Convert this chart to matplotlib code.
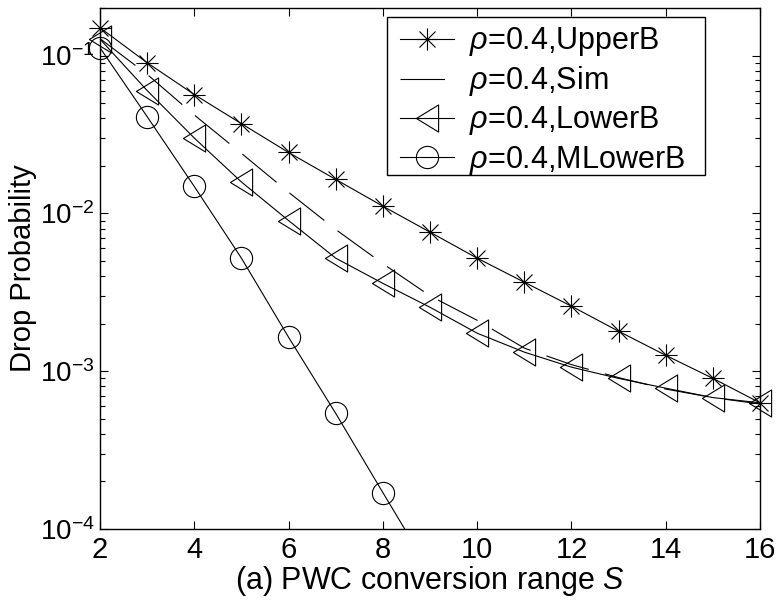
import numpy as np
import matplotlib
matplotlib.use("Agg")
import matplotlib.pyplot as plt
from matplotlib.path import Path
from matplotlib.lines import Line2D
from matplotlib.patches import Rectangle
from matplotlib.ticker import LogLocator, LogFormatterMathtext, NullFormatter

plt.rcParams['font.family'] = ['Liberation Sans', 'DejaVu Sans']
plt.rcParams['mathtext.fontset'] = 'custom'
plt.rcParams['mathtext.rm'] = 'Liberation Sans'
plt.rcParams['mathtext.it'] = 'Liberation Sans:italic'
plt.rcParams['axes.unicode_minus'] = False

# data
S = [2, 3, 4, 5, 6, 7, 8, 9, 10, 11, 12, 13, 14, 15, 16]
upper_b = [0.150, 0.090, 0.0566, 0.037, 0.0243, 0.0164, 0.0111, 0.0076,
           0.0052, 0.00366, 0.00258, 0.00179, 0.00126, 0.00090, 0.00063]
sim = [0.128, 0.076, 0.042, 0.024, 0.0136, 0.0079, 0.0048, 0.0030,
       0.0021, 0.0014, 0.0011, 0.00091, 0.00077, 0.00068, 0.00062]
lower_b = [0.127, 0.060, 0.030, 0.0158, 0.0090, 0.0052, 0.0036, 0.00254,
           0.00174, 0.00132, 0.00106, 0.00090, 0.00078, 0.00068, 0.00063]
S_m = [2, 3, 4, 5, 6, 7, 8, 9]
mlower_b = [0.112, 0.041, 0.0148, 0.0052, 0.00164, 0.00054, 0.00017, 0.000054]

labels = [r'$\rho$=0.4,UpperB', r'$\rho$=0.4,Sim',
          r'$\rho$=0.4,LowerB', r'$\rho$=0.4,MLowerB']

# matlab-style asterisk: + and x together
d = 0.72
star = Path([(-1, 0), (1, 0), (0, -1), (0, 1), (-d, -d), (d, d), (-d, d), (d, -d)],
            [Path.MOVETO, Path.LINETO] * 4)
# left pointing triangle, a bit taller than wide
w = 0.82
tri = Path([(-w, 0), (w, 1), (w, -1), (-w, 0)],
           [Path.MOVETO, Path.LINETO, Path.LINETO, Path.CLOSEPOLY])

fig = plt.figure(figsize=(7.8, 6.02), dpi=100)
ax = fig.add_axes([0.1282, 0.1213, 0.8462, 0.8654])

lw = 0.8
mew = 0.8
dash = (40, 15)

ax.plot(S, upper_b, '-', color='k', lw=lw)
ax.plot(S, upper_b, ls='none', marker=star, ms=16, mew=mew, mec='k', clip_on=False)
ax.plot(S, sim, '--', color='k', lw=lw, dashes=dash)
ax.plot(S, lower_b, '-', color='k', lw=lw)
ax.plot(S, lower_b, ls='none', marker=tri, ms=19.5, mew=mew, mec='k', mfc='none', clip_on=False)
ax.plot(S_m, mlower_b, '-', color='k', lw=lw)
vis = [v >= 1e-4 for v in mlower_b]
ax.plot([s for s, k in zip(S_m, vis) if k], [v for v, k in zip(mlower_b, vis) if k],
        ls='none', marker='o', ms=16, mew=mew, mec='k', mfc='none', clip_on=False)

ax.set_yscale('log')
ax.set_xlim(2, 16)
ax.set_ylim(1e-4, 0.2)
ax.set_xticks([2, 4, 6, 8, 10, 12, 14, 16])
ax.yaxis.set_major_locator(LogLocator(base=10))
ax.yaxis.set_major_formatter(LogFormatterMathtext())
ax.yaxis.set_minor_locator(LogLocator(base=10, subs=np.arange(2, 10)))
ax.yaxis.set_minor_formatter(NullFormatter())
ax.tick_params(which='both', direction='in', top=True, right=True, width=0.8)
ax.tick_params(which='major', length=6, pad=5)
ax.tick_params(which='minor', length=3.5)
ax.tick_params(axis='x', labelsize=21)
ax.tick_params(axis='y', labelsize=20, pad=4)
for sp in ax.spines.values():
    sp.set_linewidth(1.0)

ax.set_xlabel('(a) PWC conversion range $\\mathit{S}$', fontsize=22, labelpad=0)
ax.set_ylabel('Drop Probability', fontsize=21)
ax.yaxis.set_label_coords(-0.095, 0.5)

# legend frame drawn as a box, legend entries on top of it
ax.add_patch(Rectangle((0.4348, 0.6795), 0.4818, 0.3033, transform=ax.transAxes,
                       facecolor='white', edgecolor='k', lw=1.0, zorder=4.5))
handles = [
    Line2D([], [], color='k', lw=lw, marker=star, ms=16, mew=mew),
    Line2D([], [], color='k', lw=lw, ls='--', dashes=dash),
    Line2D([], [], color='k', lw=lw, marker=tri, ms=19.5, mew=mew, mfc='none'),
    Line2D([], [], color='k', lw=lw, marker='o', ms=16, mew=mew, mfc='none'),
]
leg = ax.legend(handles, labels, loc='upper right', bbox_to_anchor=(0.8864, 0.967),
                fontsize=22, handlelength=1.76, handletextpad=0.49, labelspacing=0.2,
                borderpad=0, borderaxespad=0, frameon=False)

fig.savefig('out.png', dpi=100)
